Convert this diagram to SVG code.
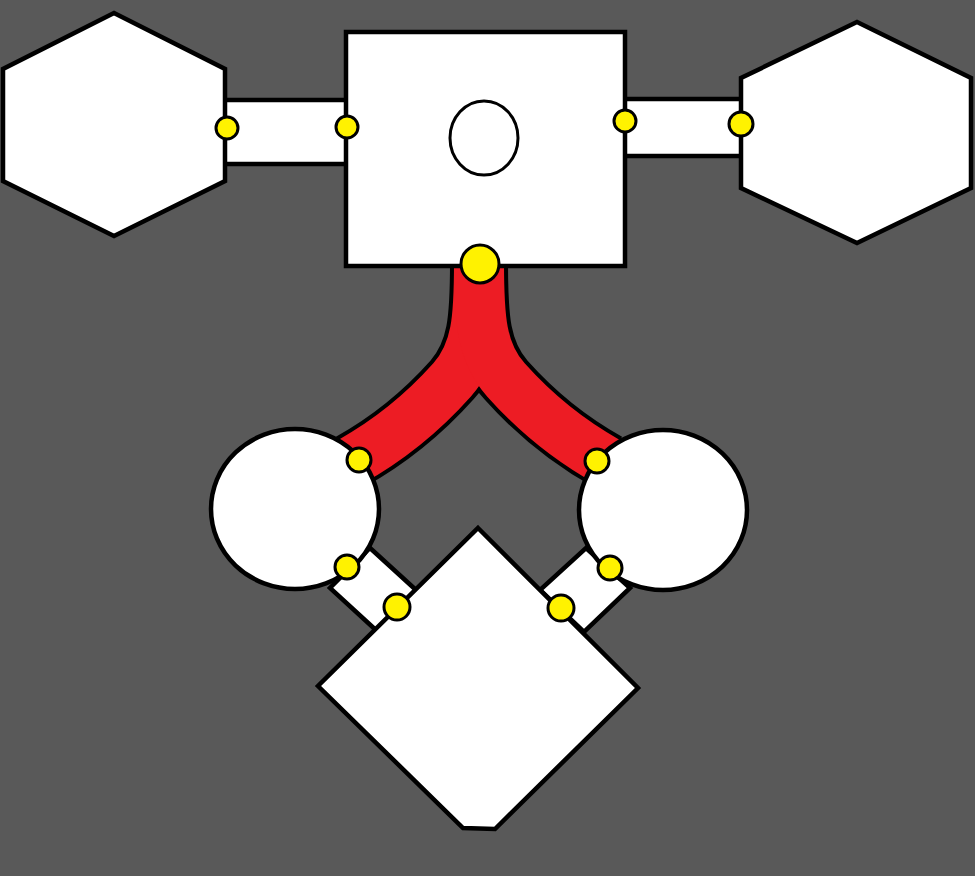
<svg xmlns="http://www.w3.org/2000/svg" width="975" height="876" viewBox="0 0 975 876">
<style>
.node{fill:#fff;stroke:#000;stroke-width:4.5;stroke-linejoin:miter}
.link{fill:#fff;stroke:#000;stroke-width:4.5}
.port{fill:#fff200;stroke:#000;stroke-width:3}
.pipeOut{fill:none;stroke:#000;stroke-width:58}
.pipeIn{fill:none;stroke:#ed1c24;stroke-width:50}
</style>
<rect width="975" height="876" fill="#595959"/>
<g id="connectors">
<rect class="link" x="220" y="100" width="130" height="64"/>
<rect class="link" x="620" y="99" width="125" height="57"/>
<polygon class="link" points="370,548 416,590 378,632 330,588"/>
<polygon class="link" points="586,548 630,588 584,632 540,590"/>
<g id="pipe">
<path class="pipeOut" d="M479,262 C479,318 477,352 452,380 C427,408 395,437 350,462"/>
<path class="pipeOut" d="M479,262 C479,318 481,352 506,380 C531,408 563,437 608,462"/>
<path class="pipeIn" d="M479,262 C479,318 477,352 452,380 C427,408 395,437 350,462"/>
<path class="pipeIn" d="M479,262 C479,318 481,352 506,380 C531,408 563,437 608,462"/>
</g>
</g>
<g id="hexLeft"><polygon class="node" points="114,13 225,69 225,181 114,236 3,181 3,69"/></g>
<g id="hexRight"><polygon class="node" points="857,22 971,78 971,188 857,243 741,188 741,78"/></g>
<g id="mainRect"><rect class="node" x="346" y="32" width="279" height="234"/>
<ellipse cx="484" cy="138" rx="34" ry="37" fill="#fff" stroke="#000" stroke-width="3"/></g>
<g id="circleLeft"><ellipse class="node" cx="295" cy="509" rx="84" ry="80"/></g>
<g id="circleRight"><ellipse class="node" cx="663" cy="510" rx="84" ry="80"/></g>
<g id="diamond"><polygon class="node" points="478,528 638,688 495,829 463,828 318,686"/></g>
<g id="ports">
<circle class="port" cx="227" cy="128" r="11"/>
<circle class="port" cx="347" cy="127" r="11"/>
<circle class="port" cx="625" cy="121" r="11"/>
<circle class="port" cx="741" cy="124" r="12"/>
<circle class="port" cx="480" cy="264" r="19"/>
<circle class="port" cx="359" cy="460" r="12"/>
<circle class="port" cx="597" cy="461" r="12"/>
<circle class="port" cx="347" cy="567" r="12"/>
<circle class="port" cx="610" cy="568" r="12"/>
<circle class="port" cx="397" cy="607" r="13"/>
<circle class="port" cx="561" cy="608" r="13"/>
</g>
</svg>
